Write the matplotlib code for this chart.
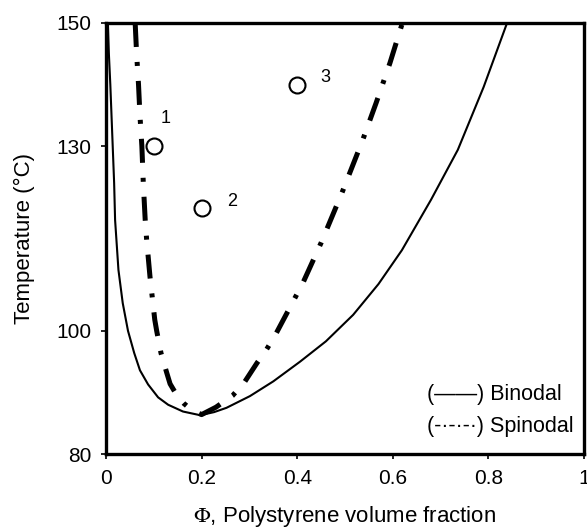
import matplotlib
matplotlib.use("Agg")
import matplotlib.pyplot as plt

plt.rcParams["font.family"] = ["Liberation Sans", "DejaVu Sans"]
plt.rcParams["mathtext.fontset"] = "stix"

# binodal curve (phi, T in degC)
binodal_phi = [0.004, 0.006, 0.009, 0.014, 0.017, 0.019, 0.026, 0.035, 0.046, 0.059, 0.071,
               0.088, 0.109, 0.130, 0.161, 0.197, 0.226, 0.252, 0.301, 0.350, 0.406,
               0.460, 0.517, 0.570, 0.619, 0.680, 0.736, 0.790, 0.839]
binodal_T = [150, 145, 140, 130, 124, 118, 109.9, 104.5, 100, 96.4, 93.6,
             91.3, 89.2, 88.0, 86.9, 86.3, 86.8, 87.5, 89.4, 91.8, 95.0,
             98.3, 102.6, 107.6, 113.1, 121.3, 129.4, 139.6, 150]

# spinodal curve
spinodal_phi = [0.061, 0.064, 0.068, 0.071, 0.075, 0.078, 0.082, 0.085, 0.092, 0.102,
                0.106, 0.115, 0.127, 0.134, 0.150, 0.163, 0.180, 0.200,
                0.230, 0.265, 0.290, 0.316, 0.336, 0.354, 0.412, 0.450, 0.493,
                0.537, 0.565, 0.594, 0.620]
spinodal_T = [150, 145, 140, 135, 130, 124, 118, 114.8, 108.8, 101.8,
              100, 96.4, 93.2, 91.4, 89.3, 88.2, 87.1, 86.4,
              87.6, 89.5, 91.7, 94.8, 97.0, 99.3, 107.8, 114.3, 122.3,
              131.0, 137.0, 143.5, 150]

# experimental points
point_phi = [0.1, 0.2, 0.4]
point_T = [130, 120, 140]
point_labels = ["1", "2", "3"]

x_ticks = [0, 0.2, 0.4, 0.6, 0.8, 1.0]
x_ticklabels = ["0", "0.2", "0.4", "0.6", "0.8", "1"]
y_ticks = [80, 100, 130, 150]

fig = plt.figure(figsize=(5.87, 5.31), dpi=100)
ax = fig.add_axes([0.1806, 0.145, 0.8143, 0.8117])

ax.plot(binodal_phi, binodal_T, color="black", lw=1.5)
sp, = ax.plot(spinodal_phi, spinodal_T, color="black", lw=3.6)
sp.set_dashes([4.8, 3.0, 0.8, 3.0])

ax.plot(point_phi, point_T, "o", ms=11.5, mfc="white", mec="black", mew=1.5)
# label offsets in points (label 1 sits above to clear the spinodal)
offsets = [(8.6, 20.2), (22.3, 4.8), (20.2, 5.0)]
for px, py, lab, off in zip(point_phi, point_T, point_labels, offsets):
    ax.annotate(lab, (px, py), xytext=off, textcoords="offset points",
                fontsize=13, ha="center", va="center")

ax.text(0.672, 0.137, "(\u2014\u2014) Binodal", transform=ax.transAxes,
        ha="left", va="center", fontsize=15.5)
ax.text(0.672, 0.063, "(-\u00b7-\u00b7-\u00b7) Spinodal", transform=ax.transAxes,
        ha="left", va="center", fontsize=15.5)

ax.set_xlim(0, 1)
ax.set_ylim(80, 150)
ax.set_xticks(x_ticks)
ax.set_xticklabels(x_ticklabels)
ax.set_yticks(y_ticks)
ax.tick_params(direction="out", length=3.6, width=1.2, labelsize=15, pad=7)
for s in ax.spines.values():
    s.set_linewidth(2.4)

ax.set_xlabel(r"$\Phi$, Polystyrene volume fraction", fontsize=16, labelpad=12)
ax.set_ylabel("Temperature (\u00b0C)", fontsize=16, labelpad=15)

fig.savefig("out.png", dpi=100)
